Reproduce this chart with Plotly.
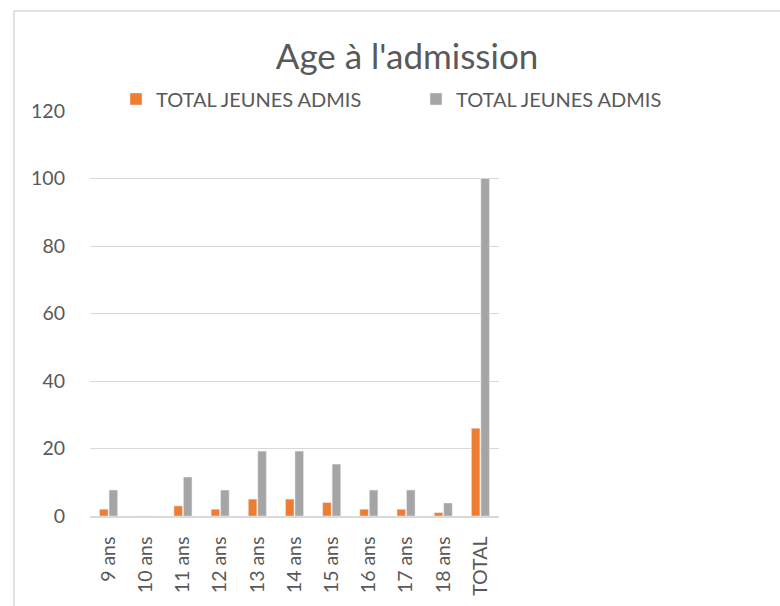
import plotly.graph_objects as go

categories = ["9 ans", "10 ans", "11 ans", "12 ans", "13 ans", "14 ans", "15 ans", "16 ans", "17 ans", "18 ans", "TOTAL"]
orange_values = [2, 0, 3, 2, 5, 5, 4, 2, 2, 1, 26]
gray_values = [7.69, 0, 11.54, 7.69, 19.23, 19.23, 15.38, 7.69, 7.69, 3.85, 100]
series_name = "TOTAL JEUNES ADMIS"
y_ticks = [0, 20, 40, 60, 80, 100, 120]

FONT = "Lato"
TXT = "#595959"
GRID = "#D9D9D9"

W, H = 780, 606
L, R_px, T, B_px = 90, 499, 111.3, 515.7

fig = go.Figure()
fig.add_trace(go.Bar(x=categories, y=orange_values, name=series_name, marker_color="#ED7D31",
                     legend="legend"))
fig.add_trace(go.Bar(x=categories, y=gray_values, name=series_name, marker_color="#A5A5A5",
                     legend="legend2"))

def px_x(p):
    return (p - L) / (R_px - L)

def px_y(p):
    return (B_px - p) / (B_px - T)

leg_common = dict(orientation="h", xref="container", yref="container", xanchor="left",
                  y=1 - 99 / H, yanchor="middle", bgcolor="rgba(0,0,0,0)",
                  font=dict(size=20, color=TXT, family=FONT))

fig.update_layout(
    width=W, height=H,
    margin=dict(l=L, r=W - R_px, t=T, b=H - B_px, pad=0, autoexpand=False),
    paper_bgcolor="white", plot_bgcolor="white",
    barmode="group", bargap=0.49, bargroupgap=0.1,
    font=dict(family=FONT, color=TXT, size=19.5),
    title=dict(text="Age à l'admission", x=407 / W, xref="container", xanchor="center",
               y=1 - 57 / H, yref="container", yanchor="middle",
               font=dict(size=35, color=TXT, family=FONT)),
    showlegend=True,
    legend=dict(x=116 / W, **leg_common),
    legend2=dict(x=416 / W, **leg_common),
    xaxis=dict(showgrid=False, showline=True, linecolor=GRID, linewidth=1.5, tickangle=-90,
               ticks="", ticklabelstandoff=11, automargin=False,
               tickfont=dict(size=19.5, color=TXT, family=FONT)),
    yaxis=dict(range=[0, 120], tickvals=y_ticks, showgrid=True, gridcolor=GRID, gridwidth=1.3,
               zeroline=False, showline=False, ticks="", ticklabelstandoff=24, automargin=False,
               tickfont=dict(size=19.5, color=TXT, family=FONT)),
)

fig.add_shape(type="rect", xref="paper", yref="paper",
              x0=px_x(14), x1=px_x(800), y0=px_y(640), y1=px_y(11.5),
              line=dict(color=GRID, width=1.5), fillcolor="rgba(0,0,0,0)", layer="below")

fig.write_html("out.html", config={"displayModeBar": False},
               post_script="document.body.style.margin='0';document.body.style.overflow='hidden';")
